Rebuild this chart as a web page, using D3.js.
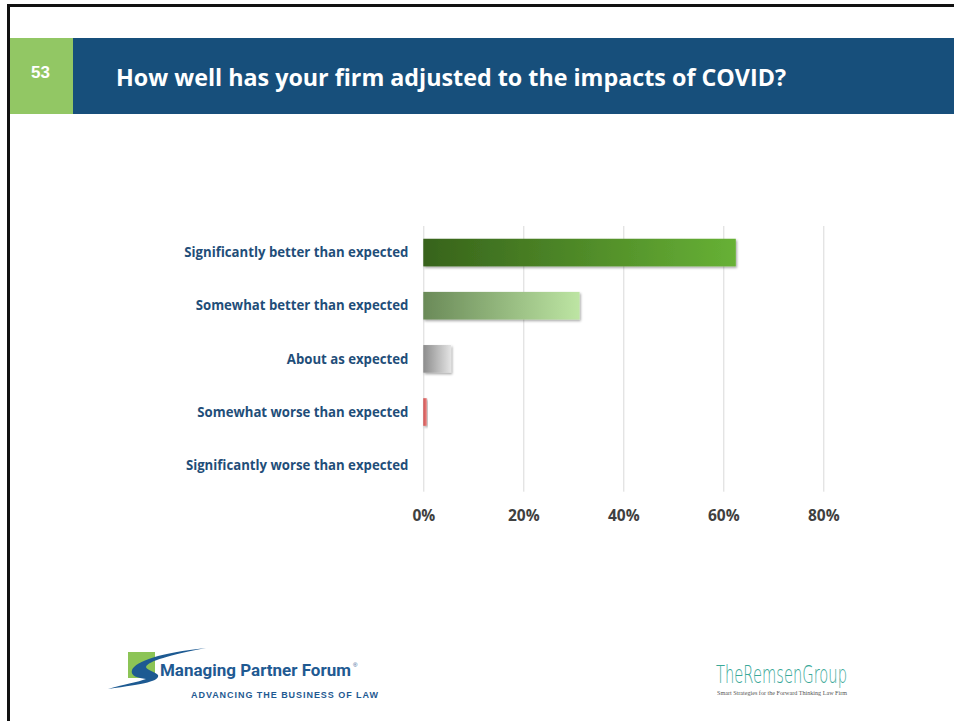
<!DOCTYPE html>
<html>
<head>
<meta charset="utf-8">
<script src="https://cdn.jsdelivr.net/npm/d3@7"></script>
<style>
  html, body { margin: 0; padding: 0; background: #fff; }
  svg { display: block; }
</style>
</head>
<body>
<script>
// Survey responses (share of firms, %)
const categories = [
  "Significantly better than expected",
  "Somewhat better than expected",
  "About as expected",
  "Somewhat worse than expected",
  "Significantly worse than expected"
];
const values = [62.5, 31.25, 5.56, 0.69, 0];
const xTicks = [0, 20, 40, 60, 80];
const slideNumber = "53";
const titleText = "How well has your firm adjusted to the impacts of COVID?";

// Gradient stops (left, right) for each bar
const barFills = [
  ["#37631b", "#67b135"],
  ["#6a8a58", "#bde5a3"],
  ["#8c8c8c", "#e4e4e4"],
  ["#cf4f4e", "#e98583"],
  ["#bbbbbb", "#e4e4e4"]
];

const W = 954, H = 721;
const svg = d3.select("body").append("svg").attr("width", W).attr("height", H);
const defs = svg.append("defs");

// ---- slide frame ----
svg.append("rect").attr("x", 0).attr("y", 0).attr("width", W).attr("height", H).attr("fill", "#fff");
svg.append("rect").attr("x", 7).attr("y", 4).attr("width", W).attr("height", 3).attr("fill", "#111");
svg.append("rect").attr("x", 7).attr("y", 4).attr("width", 3).attr("height", H).attr("fill", "#111");

// ---- header band ----
svg.append("rect").attr("x", 10).attr("y", 38).attr("width", 63).attr("height", 76).attr("fill", "#92c764");
svg.append("rect").attr("x", 73).attr("y", 38).attr("width", W - 73).attr("height", 76).attr("fill", "#174f7b");
svg.append("text").attr("x", 40.5).attr("y", 78.3).attr("text-anchor", "middle")
  .attr("font-family", "Liberation Sans, Arial, sans-serif").attr("font-weight", "bold")
  .attr("font-size", 17).attr("fill", "#fff").text(slideNumber);
const title = svg.append("text").attr("x", 116).attr("y", 86)
  .attr("font-family", "Open Sans, sans-serif").attr("font-weight", "bold")
  .attr("font-size", 22.5).attr("fill", "#fff").text(titleText);
title.attr("textLength", 670).attr("lengthAdjust", "spacingAndGlyphs");

// ---- chart ----
const x = d3.scaleLinear().domain([0, 80]).range([423.3, 823.3]);
const y = d3.scaleBand().domain(categories).range([226, 491.7]).paddingInner(0.48).paddingOuter(0.24);

// vertical gridlines
svg.append("g").attr("transform", "translate(0,491.7)")
  .call(d3.axisBottom(x).tickValues(xTicks).tickSize(-(491.7 - 226)).tickFormat(""))
  .call(g => g.select(".domain").remove())
  .call(g => g.selectAll(".tick line").attr("stroke", "#d9d9d9").attr("stroke-width", 1));

// tick labels
svg.append("g").attr("transform", "translate(0,510)")
  .call(d3.axisBottom(x).tickValues(xTicks).tickSize(0).tickPadding(0).tickFormat(d => d + "%"))
  .call(g => g.select(".domain").remove())
  .call(g => g.selectAll("text")
    .attr("font-family", "Open Sans, sans-serif").attr("font-weight", "bold")
    .attr("font-size", 15.5).attr("fill", "#404040"));

// gradients & shadow
barFills.forEach((c, i) => {
  const g = defs.append("linearGradient").attr("id", "barGrad" + i)
    .attr("x1", "0%").attr("x2", "100%").attr("y1", "0%").attr("y2", "0%");
  g.append("stop").attr("offset", "0%").attr("stop-color", c[0]);
  g.append("stop").attr("offset", "100%").attr("stop-color", c[1]);
});
const shadow = defs.append("filter").attr("id", "barShadow")
  .attr("x", "-10%").attr("y", "-30%").attr("width", "130%").attr("height", "180%");
shadow.append("feDropShadow").attr("dx", 1.2).attr("dy", 1.5).attr("stdDeviation", 1.3)
  .attr("flood-color", "#000").attr("flood-opacity", 0.35);

svg.append("g").selectAll("rect").data(values).join("rect")
  .attr("x", x(0))
  .attr("y", (d, i) => y(categories[i]))
  .attr("width", d => x(d) - x(0))
  .attr("height", y.bandwidth())
  .attr("fill", (d, i) => `url(#barGrad${i})`)
  .attr("filter", "url(#barShadow)");

// category labels
const catAxis = svg.append("g").attr("transform", `translate(${x(0)},0)`)
  .call(d3.axisLeft(y).tickSize(0).tickPadding(15))
  .call(g => g.select(".domain").remove());
const catText = catAxis.selectAll("text")
  .attr("font-family", "Open Sans, sans-serif").attr("font-weight", "bold")
  .attr("font-size", 13.8).attr("fill", "#1f4e79").attr("dy", "0.34em");
// condense labels to the narrower face width
const firstW = catText.nodes()[0].getComputedTextLength();
const squeeze = 224 / firstW;
catText.each(function () {
  const w = this.getComputedTextLength();
  d3.select(this).attr("textLength", w * squeeze).attr("lengthAdjust", "spacingAndGlyphs");
});

// ---- footer logo: Managing Partner Forum ----
const mpf = svg.append("g");
mpf.append("rect").attr("x", 128).attr("y", 652).attr("width", 27).attr("height", 26).attr("fill", "#8cc456");
mpf.append("path")
  .attr("d", "M108,689 C125,684 138,682 146,679 C138,678 130,676 132,670 C136,661 160,653 206,648 C170,655 148,661 146,667 C146,670 156,672 158,675 C160,681 145,684 108,689 Z")
  .attr("fill", "#1d5a92");
const mpfName = mpf.append("text").attr("x", 160).attr("y", 676)
  .attr("font-family", "Liberation Sans Narrow, Roboto, sans-serif").attr("font-weight", "bold")
  .attr("font-size", 18.5).attr("fill", "#1f5a92")
  .text("Managing Partner Forum");
// size the wordmark to its span, then set the registered mark just past it
const nameW = mpfName.node().getComputedTextLength();
mpfName.attr("font-size", 18.5 * 191 / nameW);
mpf.append("text").attr("x", 160 + 191 + 2).attr("y", 667)
  .attr("font-family", "Liberation Sans, sans-serif").attr("font-size", 6).attr("fill", "#1f5a92").text("®");
mpf.append("text").attr("x", 191).attr("y", 697.5)
  .attr("font-family", "Liberation Sans, sans-serif").attr("font-weight", "bold")
  .attr("font-size", 9).attr("fill", "#1f5a92")
  .attr("textLength", 187).attr("lengthAdjust", "spacing")
  .text("ADVANCING THE BUSINESS OF LAW");

// ---- footer logo: The Remsen Group ----
const rg = svg.append("g");
rg.append("text").attr("x", 716).attr("y", 683)
  .attr("font-family", "DejaVu Sans, sans-serif").attr("font-weight", "200")
  .attr("font-size", 24).attr("fill", "#3aa999")
  .attr("textLength", 131).attr("lengthAdjust", "spacingAndGlyphs")
  .text("TheRemsenGroup");
rg.append("text").attr("x", 717).attr("y", 695)
  .attr("font-family", "Liberation Serif, serif")
  .attr("font-size", 5.2).attr("fill", "#555")
  .attr("textLength", 130).attr("lengthAdjust", "spacingAndGlyphs")
  .text("Smart Strategies for the Forward Thinking Law Firm");
</script>
</body>
</html>
